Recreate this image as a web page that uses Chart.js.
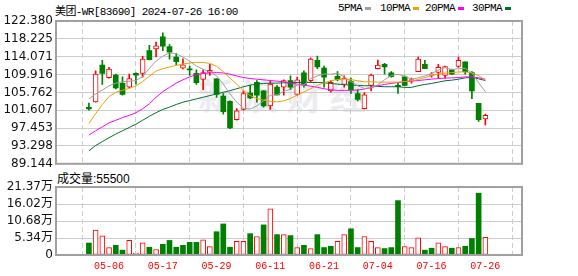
<!DOCTYPE html>
<html>
<head>
<meta charset="utf-8">
<script src="https://cdn.jsdelivr.net/npm/chart.js@4.4.1/dist/chart.umd.min.js"></script>
<style>
  body { margin: 0; background: #fff; width: 578px; height: 276px; overflow: hidden; position: relative; }
  canvas { position: absolute; left: 0; z-index: 1; }
  #kline { top: 0; }
  #vol { top: 176px; }
  .mono { position: absolute; font: 11px 'Liberation Mono', 'Noto Sans CJK SC', monospace; letter-spacing: -0.6px; color: #000; white-space: nowrap; }
  .sw { position: absolute; top: 7px; width: 6px; height: 3px; }
  #vollabel { position: absolute; left: 57px; top: 169px; font: 12px 'Liberation Sans', 'Noto Sans CJK SC', sans-serif; color: #000; white-space: nowrap; }
  #wm { position: absolute; left: 198px; top: 68px; font: bold 36px 'Noto Sans CJK SC', sans-serif; letter-spacing: 8px; color: #ececf0; z-index: 0; white-space: nowrap; }
</style>
</head>
<body>
<div id="wm">新浪财经</div>
<div class="mono" id="title" style="left:55px; top:2px;">美团-WR[83690] 2024-07-26 16:00</div>
<div id="legend"></div>
<canvas id="kline" width="578" height="174"></canvas>
<div id="vollabel"></div>
<canvas id="vol" width="578" height="100"></canvas>
<script>
// 날짜 (HK 거래일, 2024)
const dates = ['04-30','05-02','05-03','05-06','05-07','05-08','05-09','05-10','05-13','05-14',
  '05-16','05-17','05-20','05-21','05-22','05-23','05-24','05-27','05-28','05-29',
  '05-30','05-31','06-03','06-04','06-05','06-06','06-07','06-11','06-12','06-13',
  '06-14','06-17','06-18','06-19','06-20','06-21','06-24','06-25','06-26','06-27',
  '06-28','07-02','07-03','07-04','07-05','07-08','07-09','07-10','07-11','07-12',
  '07-15','07-16','07-17','07-18','07-19','07-22','07-23','07-24','07-25','07-26'];
const tickDates = ['05-06','05-17','05-29','06-11','06-21','07-04','07-16','07-26'];

const opens = [102.3,103.55,112.1,109.2,109.8,107.9,107.0,110.2,110.2,115.5,
  115.9,118.7,116.4,114.0,111.4,111.2,110.2,108.8,110.4,108.9,
  104.9,103.7,99.4,101.8,105.6,108.1,106.1,102.6,107.0,107.0,
  108.5,105.3,110.3,108.5,113.2,111.4,106.1,109.5,107.6,108.3,
  105.5,102.0,107.4,111.3,112.3,110.3,107.4,109.4,108.5,110.6,
  112.3,109.7,110.4,109.7,111.0,111.8,112.9,110.4,103.2,99.6];
const highs = [103.3,110.8,113.2,111.6,110.0,109.4,110.0,110.3,114.15,116.7,
  117.5,119.6,116.9,114.8,113.6,111.9,111.0,111.0,112.3,109.0,
  105.5,103.8,102.0,106.1,107.4,108.5,106.2,108.5,107.4,108.7,
  109.6,109.3,110.8,113.8,114.2,111.9,108.5,110.6,109.6,109.1,
  106.4,105.7,110.0,113.3,112.5,110.6,108.1,109.6,109.1,114.0,
  113.2,110.4,112.3,111.9,111.2,114.0,112.9,110.6,103.2,100.7];
const lows = [101.6,103.5,107.6,109.1,106.6,105.1,106.8,107.7,109.3,113.3,
  114.0,115.5,113.5,112.2,111.2,109.7,107.6,106.4,109.7,104.6,
  100.7,97.3,99.3,101.6,104.3,103.5,102.3,101.8,105.1,105.1,
  106.4,105.1,107.0,108.1,111.3,107.0,105.8,108.5,107.0,105.5,
  103.8,101.9,106.1,111.2,110.0,109.3,105.5,107.3,107.9,110.6,
  111.3,109.3,109.1,109.1,109.9,111.6,110.0,104.3,99.0,98.2];
const closes = [101.9,110.03,110.18,111.2,106.8,105.3,109.0,109.8,113.5,113.4,
  116.6,116.5,115.1,112.9,112.2,111.0,108.0,110.4,110.9,105.3,
  101.3,97.5,101.5,105.5,104.5,105.1,102.6,107.7,105.2,108.5,
  107.0,108.7,107.5,113.5,111.7,109.3,108.1,108.7,109.1,106.4,
  104.1,105.2,109.8,112.1,111.7,109.4,107.1,107.4,108.7,113.5,
  111.3,110.0,111.6,111.8,110.0,113.2,110.6,106.1,99.4,100.4];

// 이동평균선
const ma5 = [104.25,105.40,106.31,107.30,107.92,108.22,108.37,108.53,109.45,111.36,
  113.05,114.20,114.96,114.73,113.97,113.05,111.90,111.14,110.60,109.60,
  107.69,105.40,103.49,102.11,101.88,102.64,103.79,105.09,105.17,106.01,
  106.47,107.46,107.46,108.99,109.60,110.06,109.99,110.22,109.38,108.30,
  107.30,106.70,106.85,107.54,108.69,109.68,109.99,109.53,108.84,109.15,
  109.60,110.14,110.98,111.52,111.06,111.29,111.36,110.29,107.99,105.93];
const ma10 = [98.51,100.81,102.95,104.79,105.78,106.24,106.70,107.23,108.30,109.53,
  110.75,111.29,111.67,112.05,112.36,112.59,112.74,112.74,112.51,111.82,
  110.60,109.07,107.69,106.16,105.02,104.33,103.95,103.71,103.56,103.79,
  104.33,105.17,105.86,106.62,107.39,108.00,108.46,108.76,108.84,108.76,
  108.46,108.23,108.23,108.15,108.15,108.15,108.15,108.30,108.46,108.76,
  109.22,109.68,110.06,110.22,110.37,110.52,110.52,110.29,109.68,108.61];
const ma20 = [95.83,96.83,97.75,98.67,99.28,99.89,100.42,101.04,101.95,103.10,
  104.63,105.93,106.93,107.92,108.69,109.37,109.91,110.14,110.29,110.37,
  110.29,109.99,109.60,109.22,108.99,108.84,108.69,108.53,108.38,108.23,
  107.92,107.69,107.46,107.23,106.93,106.62,106.39,106.24,106.24,106.24,
  106.32,106.55,106.85,107.31,107.62,107.85,108.07,108.23,108.38,108.53,
  108.69,108.84,108.99,109.07,109.15,109.22,109.37,109.37,109.15,108.84];
const ma30 = [92.16,93.39,94.30,95.22,96.06,96.83,97.59,98.36,99.28,100.20,
  101.04,101.80,102.34,102.95,103.48,103.87,104.25,104.63,105.02,105.40,
  105.78,106.16,106.62,107.08,107.46,107.69,107.85,107.92,107.92,108.00,
  108.00,108.07,108.07,108.07,108.07,108.00,107.85,107.69,107.54,107.46,
  107.39,107.31,107.31,107.16,107.08,107.08,107.08,106.93,106.93,107.31,
  107.62,107.85,108.15,108.46,108.61,108.84,109.15,109.22,108.92,108.53];

// 거래량 (주)
const volumes = [37600,78300,60000,23400,30500,15300,45800,5100,38600,24400,
  17300,33600,45800,24400,30500,39700,39700,47800,26400,73200,
  97600,24400,42700,42700,67100,58000,94600,145400,64100,64100,
  61000,23400,30500,20300,64100,23400,27500,42700,64100,82400,
  23400,58000,42700,23400,20300,23400,170900,26400,23400,53900,
  15300,21400,38600,26400,21400,23400,27500,51900,194300,55500];

const priceTicks = [89.144, 93.298, 97.453, 101.607, 105.762, 109.916, 114.071, 118.225, 122.380];
const volTicks = [0, 53400, 106800, 160200, 213700];

const maNames = ['5PMA', '10PMA', '20PMA', '30PMA'];
const maColors = ['#a0a0a0', '#f0a000', '#ff00ff', '#006e2e'];

const RED = '#ff0000', GREEN = '#008000';
const GRID = '#cccccc';

// 범례
const legendX = [338, 380, 425, 472];
document.getElementById('legend').innerHTML = maNames.map((n, i) =>
  `<div class="mono" style="left:${legendX[i]}px; top:2px;">${n}</div>` +
  `<div class="sw" style="left:${legendX[i] + n.length * 6 + 3}px; background:${maColors[i]};"></div>`).join('');
document.getElementById('vollabel').textContent = '成交量:' + volumes[volumes.length - 1];

const idx = dates.map((d, i) => i);
const tickIdx = tickDates.map(d => dates.indexOf(d));
const candleUp = idx.map(i => closes[i] >= opens[i]);
const volUp = idx.map(i => i === 0 ? closes[0] >= opens[0] : closes[i] >= closes[i - 1]);

const frame = {
  id: 'frame',
  afterDraw(chart) {
    const a = chart.chartArea, ctx = chart.ctx;
    ctx.save();
    ctx.strokeStyle = '#a0a0a0';
    ctx.lineWidth = 2;
    ctx.strokeRect(a.left, a.top, a.right - a.left, a.bottom - a.top);
    ctx.restore();
  }
};

function xAxis(showLabels) {
  return {
    type: 'linear', min: -0.56, max: 60.12, bounds: 'data',
    afterBuildTicks: s => { s.ticks = tickIdx.map(v => ({ value: v })); },
    afterFit: s => { if (showLabels) s.height = 21; },
    ticks: {
      display: showLabels, autoSkip: false, maxRotation: 0, padding: 5,
      color: RED, font: { family: "'Liberation Mono', monospace", size: 10 },
      callback: v => dates[v]
    },
    grid: { color: GRID, drawTicks: false, lineWidth: 1 },
    border: { display: false, dash: [5, 3] }
  };
}

function yAxis(min, max, ticks, fmt) {
  return {
    min, max, bounds: 'data',
    afterBuildTicks: s => { s.ticks = ticks.map(v => ({ value: v })); },
    afterFit: s => { s.width = 56; },
    ticks: {
      autoSkip: false, padding: 3, color: '#111',
      font: { family: "'DejaVu Sans', 'Noto Sans CJK SC', sans-serif", size: 12 },
      callback: fmt
    },
    grid: { color: GRID, drawTicks: false, lineWidth: 1 },
    border: { display: false }
  };
}

const common = {
  responsive: false, animation: false, devicePixelRatio: 1,
  plugins: { legend: { display: false }, tooltip: { enabled: false } }
};

// K선 차트
new Chart(document.getElementById('kline'), {
  type: 'bar',
  data: {
    datasets: [
      ...[ma5, ma10, ma20, ma30].map((arr, k) => ({
        type: 'line', label: maNames[k], order: 1,
        data: arr.map((v, i) => ({ x: i, y: v })),
        borderColor: maColors[k], borderWidth: 1, pointRadius: 0, tension: 0
      })),
      {
        label: 'body', order: 2, grouped: false,
        data: idx.map(i => ({ x: i, y: [Math.min(opens[i], closes[i]), Math.max(opens[i], closes[i])] })),
        backgroundColor: idx.map(i => candleUp[i] ? '#ffffff' : GREEN),
        borderColor: idx.map(i => candleUp[i] ? RED : GREEN),
        borderWidth: idx.map(i => candleUp[i] ? 1 : 0),
        borderSkipped: false, barThickness: 5, minBarLength: 1
      },
      {
        label: 'wick', order: 3, grouped: false,
        data: idx.map(i => ({ x: i, y: [lows[i], highs[i]] })),
        backgroundColor: idx.map(i => candleUp[i] ? RED : GREEN),
        borderWidth: 0, barThickness: 1
      }
    ]
  },
  options: {
    ...common,
    layout: { padding: { top: 21, right: 56, bottom: 9, left: 0 } },
    scales: {
      x: xAxis(false),
      y: yAxis(priceTicks[0], priceTicks[priceTicks.length - 1], priceTicks, v => v.toFixed(3))
    }
  },
  plugins: [frame]
});

// 거래량 차트
new Chart(document.getElementById('vol'), {
  type: 'bar',
  data: {
    datasets: [{
      label: 'volume', grouped: false,
      data: idx.map(i => ({ x: i, y: volumes[i] })),
      backgroundColor: idx.map(i => volUp[i] ? '#ffffff' : GREEN),
      borderColor: idx.map(i => volUp[i] ? RED : GREEN),
      borderWidth: idx.map(i => volUp[i] ? 1 : 0),
      borderSkipped: false, barThickness: 5
    }]
  },
  options: {
    ...common,
    layout: { padding: { top: 11, right: 56, bottom: 0, left: 0 } },
    scales: {
      x: xAxis(true),
      y: yAxis(0, volTicks[volTicks.length - 1], volTicks, v => v === 0 ? '0' : (v / 10000).toFixed(2) + '万')
    }
  },
  plugins: [frame]
});
</script>
</body>
</html>
